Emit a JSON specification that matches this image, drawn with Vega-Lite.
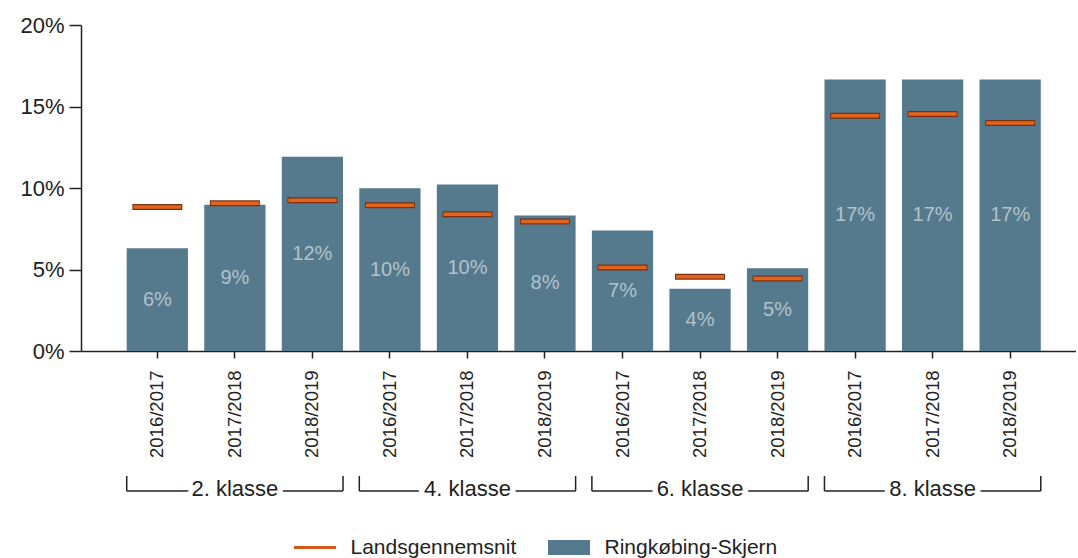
{
  "$schema": "https://vega.github.io/schema/vega-lite/v6.json",
  "padding": {"left": 19, "top": 14, "right": 0, "bottom": 0},
  "background": "white",
  "config": {
    "font": "Liberation Sans",
    "view": {"stroke": null},
    "axis": {"grid": false}
  },
  "datasets": {
    "d": [
      {"klasse": "2. klasse", "periode": "2016/2017", "key": "2. klasse 2016/2017", "serie": "Ringkøbing-Skjern", "value": 0.063},
      {"klasse": "2. klasse", "periode": "2017/2018", "key": "2. klasse 2017/2018", "serie": "Ringkøbing-Skjern", "value": 0.0898},
      {"klasse": "2. klasse", "periode": "2018/2019", "key": "2. klasse 2018/2019", "serie": "Ringkøbing-Skjern", "value": 0.1192},
      {"klasse": "4. klasse", "periode": "2016/2017", "key": "4. klasse 2016/2017", "serie": "Ringkøbing-Skjern", "value": 0.0999},
      {"klasse": "4. klasse", "periode": "2017/2018", "key": "4. klasse 2017/2018", "serie": "Ringkøbing-Skjern", "value": 0.1022},
      {"klasse": "4. klasse", "periode": "2018/2019", "key": "4. klasse 2018/2019", "serie": "Ringkøbing-Skjern", "value": 0.0831},
      {"klasse": "6. klasse", "periode": "2016/2017", "key": "6. klasse 2016/2017", "serie": "Ringkøbing-Skjern", "value": 0.074},
      {"klasse": "6. klasse", "periode": "2017/2018", "key": "6. klasse 2017/2018", "serie": "Ringkøbing-Skjern", "value": 0.0382},
      {"klasse": "6. klasse", "periode": "2018/2019", "key": "6. klasse 2018/2019", "serie": "Ringkøbing-Skjern", "value": 0.0507},
      {"klasse": "8. klasse", "periode": "2016/2017", "key": "8. klasse 2016/2017", "serie": "Ringkøbing-Skjern", "value": 0.1665},
      {"klasse": "8. klasse", "periode": "2017/2018", "key": "8. klasse 2017/2018", "serie": "Ringkøbing-Skjern", "value": 0.1665},
      {"klasse": "8. klasse", "periode": "2018/2019", "key": "8. klasse 2018/2019", "serie": "Ringkøbing-Skjern", "value": 0.1665},
      {"klasse": "2. klasse", "periode": "2016/2017", "key": "2. klasse 2016/2017", "serie": "Landsgennemsnit", "value": 0.0883},
      {"klasse": "2. klasse", "periode": "2017/2018", "key": "2. klasse 2017/2018", "serie": "Landsgennemsnit", "value": 0.0907},
      {"klasse": "2. klasse", "periode": "2018/2019", "key": "2. klasse 2018/2019", "serie": "Landsgennemsnit", "value": 0.0925},
      {"klasse": "4. klasse", "periode": "2016/2017", "key": "4. klasse 2016/2017", "serie": "Landsgennemsnit", "value": 0.0894},
      {"klasse": "4. klasse", "periode": "2017/2018", "key": "4. klasse 2017/2018", "serie": "Landsgennemsnit", "value": 0.0839},
      {"klasse": "4. klasse", "periode": "2018/2019", "key": "4. klasse 2018/2019", "serie": "Landsgennemsnit", "value": 0.0794},
      {"klasse": "6. klasse", "periode": "2016/2017", "key": "6. klasse 2016/2017", "serie": "Landsgennemsnit", "value": 0.0513},
      {"klasse": "6. klasse", "periode": "2017/2018", "key": "6. klasse 2017/2018", "serie": "Landsgennemsnit", "value": 0.0455},
      {"klasse": "6. klasse", "periode": "2018/2019", "key": "6. klasse 2018/2019", "serie": "Landsgennemsnit", "value": 0.0445},
      {"klasse": "8. klasse", "periode": "2016/2017", "key": "8. klasse 2016/2017", "serie": "Landsgennemsnit", "value": 0.1444},
      {"klasse": "8. klasse", "periode": "2017/2018", "key": "8. klasse 2017/2018", "serie": "Landsgennemsnit", "value": 0.1454},
      {"klasse": "8. klasse", "periode": "2018/2019", "key": "8. klasse 2018/2019", "serie": "Landsgennemsnit", "value": 0.1399}
    ],
    "g": [
      {"klasse": "2. klasse"},
      {"klasse": "4. klasse"},
      {"klasse": "6. klasse"},
      {"klasse": "8. klasse"}
    ]
  },
  "spacing": 17,
  "vconcat": [
    {
      "width": 995,
      "height": 326,
      "data": {"name": "d"},
      "encoding": {
        "x": {
          "field": "key",
          "type": "nominal",
          "sort": null,
          "scale": {"paddingInner": 0.21, "paddingOuter": 0.5219, "align": 0.5648},
          "axis": {
            "title": null,
            "labelExpr": "slice(datum.label, -9)",
            "labelAngle": -90,
            "labelAlign": "right",
            "labelBaseline": "middle",
            "labelFontSize": 18.5,
            "labelColor": "#222222",
            "labelPadding": 12,
            "tickSize": 7,
            "tickColor": "#222222",
            "tickWidth": 1.5,
            "domainColor": "#222222",
            "domainWidth": 1.5,
            "labelOverlap": false
          }
        }
      },
      "layer": [
        {
          "transform": [{"filter": "datum.serie === 'Ringkøbing-Skjern'"}],
          "mark": {"type": "bar"},
          "encoding": {
            "y": {
              "field": "value",
              "type": "quantitative",
              "scale": {"domain": [0, 0.2], "nice": false, "zero": true},
              "axis": {
                "title": null,
                "values": [0, 0.05, 0.1, 0.15, 0.2],
                "format": ".0%",
                "labelFontSize": 22,
                "labelColor": "#222222",
                "labelPadding": 5,
                "tickSize": 12,
                "tickColor": "#222222",
                "tickWidth": 1.5,
                "domainColor": "#222222",
                "domainWidth": 1.5
              }
            },
            "fill": {
              "field": "serie",
              "type": "nominal",
              "scale": {"domain": ["Ringkøbing-Skjern"], "range": ["#557a8e"]},
              "legend": {
                "title": null,
                "orient": "none",
                "legendX": 477.5,
                "legendY": 512,
                "symbolType": "M-2.8,-1H2.8V1H-2.8Z",
                "symbolSize": 225,
                "symbolStrokeWidth": 0,
                "symbolOpacity": 1,
                "labelFontSize": 21,
                "labelLimit": 400,
                "labelColor": "#222222",
                "labelOffset": 25
              }
            }
          }
        },
        {
          "transform": [{"filter": "datum.serie === 'Landsgennemsnit'"}],
          "mark": {"type": "tick", "size": 50, "thickness": 6, "color": "#7c3010", "opacity": 1},
          "encoding": {
            "y": {
              "field": "value",
              "type": "quantitative",
              "scale": {"domain": [0, 0.2], "nice": false, "zero": true},
              "axis": null
            }
          }
        },
        {
          "transform": [{"filter": "datum.serie === 'Landsgennemsnit'"}],
          "mark": {"type": "tick", "size": 48, "thickness": 3.5, "opacity": 1},
          "encoding": {
            "y": {
              "field": "value",
              "type": "quantitative",
              "scale": {"domain": [0, 0.2], "nice": false, "zero": true},
              "axis": null
            },
            "color": {
              "field": "serie",
              "type": "nominal",
              "scale": {"domain": ["Landsgennemsnit"], "range": ["#e2651f"]},
              "legend": {
                "title": null,
                "orient": "none",
                "legendX": 223.5,
                "legendY": 512,
                "symbolType": "M-2.8,0H2.8",
                "symbolSize": 225,
                "symbolStrokeWidth": 3,
                "symbolStrokeColor": "#d9561a",
                "symbolOpacity": 1,
                "labelFontSize": 21,
                "labelLimit": 400,
                "labelColor": "#222222",
                "labelOffset": 25
              }
            }
          }
        },
        {
          "transform": [{"filter": "datum.serie === 'Ringkøbing-Skjern'"}],
          "mark": {"type": "text", "fontSize": 20, "color": "#b3c2cb", "baseline": "middle", "align": "center"},
          "encoding": {
            "y": {
              "field": "value",
              "type": "quantitative",
              "scale": {"domain": [0, 0.4], "nice": false, "zero": true},
              "axis": null
            },
            "text": {"field": "value", "type": "quantitative", "format": ".0%"}
          }
        }
      ],
      "resolve": {"scale": {"y": "independent"}}
    },
    {
      "width": 995,
      "height": 15,
      "data": {"name": "g"},
      "layer": [
        {
          "mark": {"type": "rule", "color": "#222222", "strokeWidth": 1.5},
          "encoding": {
            "x": {"field": "klasse", "type": "nominal", "sort": null, "bandPosition": 0, "scale": {"paddingInner": 0.07, "paddingOuter": 0.174, "align": 0.5648}, "axis": null},
            "x2": {"field": "klasse", "bandPosition": 1},
            "y": {"datum": 0, "type": "quantitative", "scale": {"domain": [0, 1], "nice": false}, "axis": null}
          }
        },
        {
          "mark": {"type": "rule", "color": "#222222", "strokeWidth": 1.5},
          "encoding": {
            "x": {"field": "klasse", "type": "nominal", "sort": null, "bandPosition": 0, "scale": {"paddingInner": 0.07, "paddingOuter": 0.174, "align": 0.5648}, "axis": null},
            "y": {"datum": 0, "type": "quantitative", "scale": {"domain": [0, 1], "nice": false}, "axis": null},
            "y2": {"datum": 1}
          }
        },
        {
          "mark": {"type": "rule", "color": "#222222", "strokeWidth": 1.5},
          "encoding": {
            "x": {"field": "klasse", "type": "nominal", "sort": null, "bandPosition": 1, "scale": {"paddingInner": 0.07, "paddingOuter": 0.174, "align": 0.5648}, "axis": null},
            "y": {"datum": 0, "type": "quantitative", "scale": {"domain": [0, 1], "nice": false}, "axis": null},
            "y2": {"datum": 1}
          }
        },
        {
          "mark": {"type": "text", "fontSize": 22, "color": "white", "stroke": "white", "strokeWidth": 11, "strokeJoin": "round", "baseline": "middle", "align": "center", "dy": -2},
          "encoding": {
            "x": {"field": "klasse", "type": "nominal", "sort": null, "scale": {"paddingInner": 0.07, "paddingOuter": 0.174, "align": 0.5648}, "axis": null},
            "y": {"datum": 0, "type": "quantitative", "scale": {"domain": [0, 1], "nice": false}, "axis": null},
            "text": {"field": "klasse", "type": "nominal"}
          }
        },
        {
          "mark": {"type": "text", "fontSize": 22, "color": "#222222", "baseline": "middle", "align": "center", "dy": -2},
          "encoding": {
            "x": {"field": "klasse", "type": "nominal", "sort": null, "scale": {"paddingInner": 0.07, "paddingOuter": 0.174, "align": 0.5648}, "axis": null},
            "y": {"datum": 0, "type": "quantitative", "scale": {"domain": [0, 1], "nice": false}, "axis": null},
            "text": {"field": "klasse", "type": "nominal"}
          }
        }
      ]
    }
  ]
}
